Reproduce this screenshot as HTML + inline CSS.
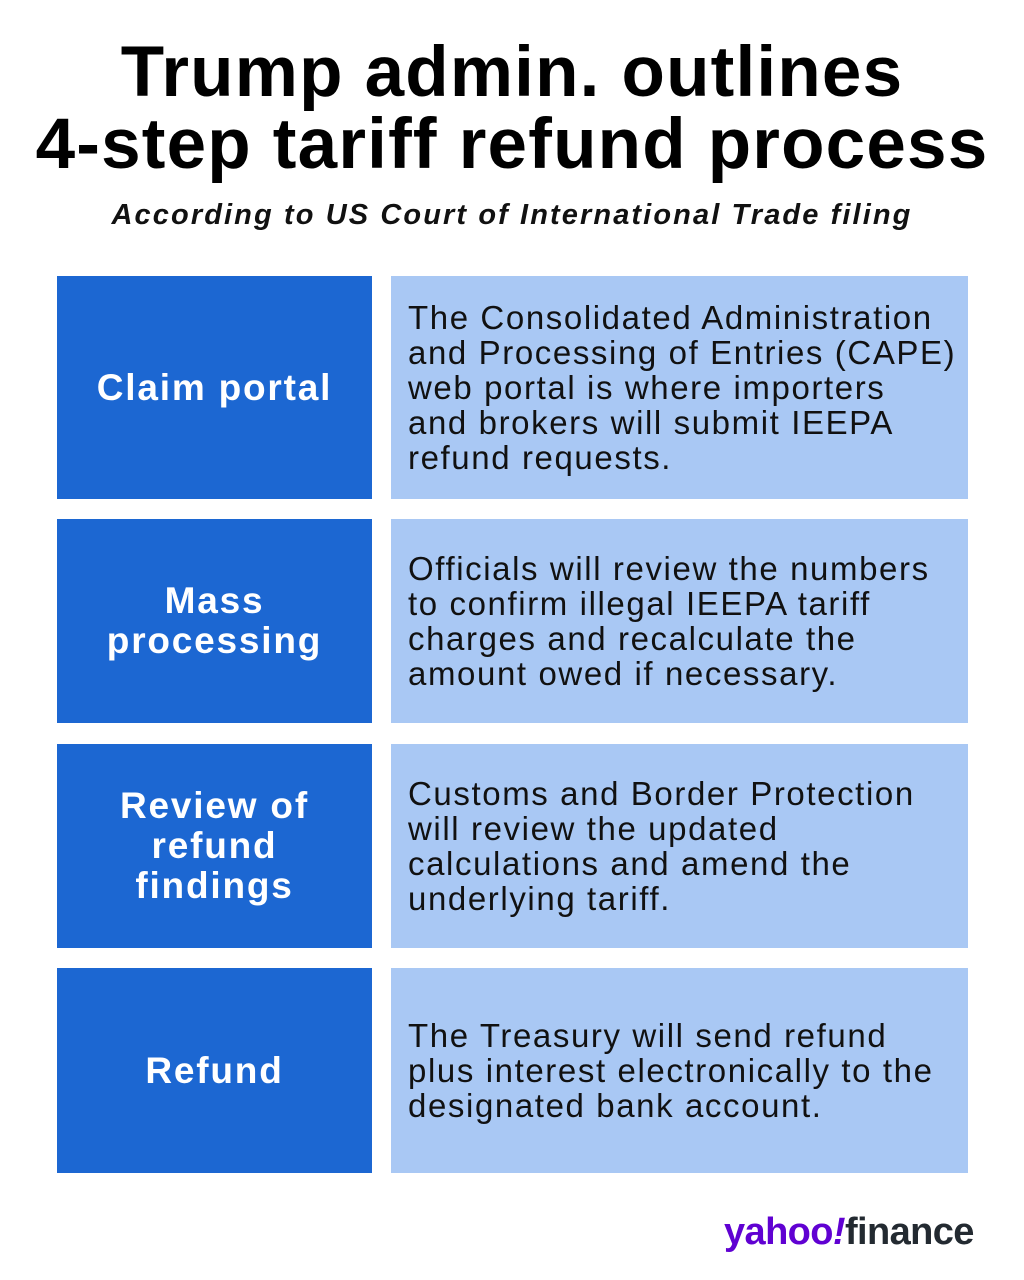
<!DOCTYPE html>
<html><head><style>
body{margin:0;width:1024px;height:1280px;background:#fff;position:relative;font-family:"Liberation Sans",sans-serif;overflow:hidden}
h1{position:absolute;top:37px;left:0;width:1024px;margin:0;text-align:center;font-size:71px;line-height:72px;font-weight:bold;color:#000;letter-spacing:1.2px}
.sub{position:absolute;top:199px;left:0;width:1024px;text-align:center;font-style:italic;font-weight:bold;font-size:29px;color:#111;letter-spacing:2.1px}
.l{position:absolute;left:57px;width:315px;background:#1c67d2;color:#fff;font-weight:bold;font-size:37px;line-height:40px;display:flex;align-items:center;justify-content:center;text-align:center;letter-spacing:1.8px}
.r{position:absolute;left:391px;width:560px;padding-left:17px;background:#a9c8f4;color:#111;font-size:33px;line-height:35px;display:flex;align-items:center;letter-spacing:1.6px}
.logo{position:absolute;left:724px;top:1211px;font-size:38px;font-weight:bold;letter-spacing:-0.6px}
</style></head><body>
<h1>Trump admin. outlines<br>4-step tariff refund process</h1>
<div class="sub">According to US Court of International Trade filing</div>
<div class="l" style="top:276px;height:223px">Claim portal</div>
<div class="r" style="top:276px;height:223px"><div>The Consolidated Administration<br>and Processing of Entries (CAPE)<br>web portal is where importers<br>and brokers will submit IEEPA<br>refund requests.</div></div>
<div class="l" style="top:519px;height:204px">Mass<br>processing</div>
<div class="r" style="top:519px;height:204px"><div>Officials will review the numbers<br>to confirm illegal IEEPA tariff<br>charges and recalculate the<br>amount owed if necessary.</div></div>
<div class="l" style="top:744px;height:204px">Review of<br>refund<br>findings</div>
<div class="r" style="top:744px;height:204px"><div>Customs and Border Protection<br>will review the updated<br>calculations and amend the<br>underlying tariff.</div></div>
<div class="l" style="top:968px;height:205px">Refund</div>
<div class="r" style="top:968px;height:205px"><div>The Treasury will send refund<br>plus interest electronically to the<br>designated bank account.</div></div>
<div class="logo"><span style="color:#6001d2">yahoo<i>!</i></span><span style="color:#232a31">finance</span></div>
</body></html>
